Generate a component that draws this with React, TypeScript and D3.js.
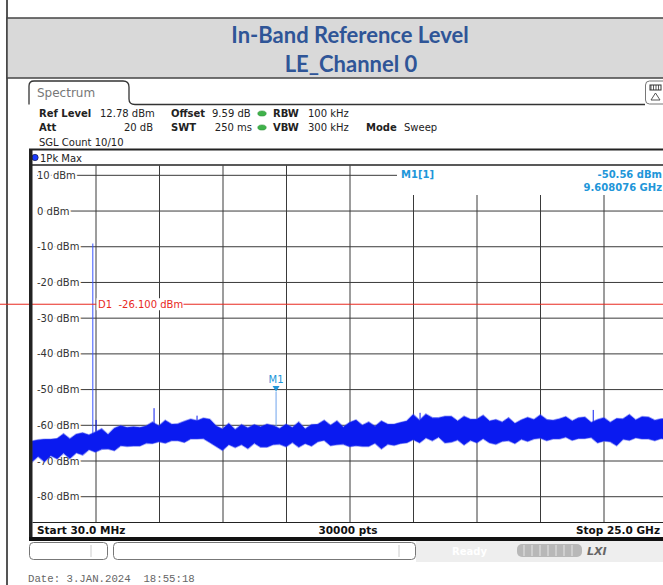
import * as d3 from 'd3';

// sweep settings
const START_GHZ = 0.03;
const STOP_GHZ = 25.0;
const REF_LEVEL = 12.78;
const BOTTOM_LEVEL = -87.22;
const Y_TICKS = [10, 0, -10, -20, -30, -40, -50, -60, -70, -80];
const D1_LEVEL = -26.1;
const M1_FREQ = 9.608076;
const M1_LEVEL = -50.56;

// peak trace envelope (dBm) sampled every 0.25 GHz
const FREQ_GHZ = [
  0.03, 0.25, 0.5, 0.75, 1.0, 1.25, 1.5, 1.75, 2.0, 2.25,
  2.5, 2.75, 3.0, 3.25, 3.5, 3.75, 4.0, 4.25, 4.5, 4.75,
  5.0, 5.25, 5.5, 5.75, 6.0, 6.25, 6.5, 6.75, 7.0, 7.25,
  7.5, 7.75, 8.0, 8.25, 8.5, 8.75, 9.0, 9.25, 9.5, 9.75,
  10.0, 10.25, 10.5, 10.75, 11.0, 11.25, 11.5, 11.75, 12.0, 12.25,
  12.5, 12.75, 13.0, 13.25, 13.5, 13.75, 14.0, 14.25, 14.5, 14.75,
  15.0, 15.25, 15.5, 15.75, 16.0, 16.25, 16.5, 16.75, 17.0, 17.25,
  17.5, 17.75, 18.0, 18.25, 18.5, 18.75, 19.0, 19.25, 19.5, 19.75,
  20.0, 20.25, 20.5, 20.75, 21.0, 21.25, 21.5, 21.75, 22.0, 22.25,
  22.5, 22.75, 23.0, 23.25, 23.5, 23.75, 24.0, 24.25, 24.5, 24.75,
  25.0,
];
const TRACE_MAX = [
  -64.5, -64.2, -64.0, -64.0, -63.8, -62.5, -63.9, -62.6, -62.2, -62.8,
  -62.0, -61.1, -62.7, -60.9, -60.2, -60.7, -60.5, -60.7, -60.3, -59.2,
  -60.3, -58.7, -59.8, -59.7, -59.0, -58.4, -58.8, -58.1, -58.4, -60.3,
  -61.1, -59.6, -61.3, -59.9, -60.8, -59.9, -60.5, -59.8, -60.2, -61.0,
  -59.8, -60.7, -59.2, -61.1, -59.9, -59.8, -58.7, -60.1, -58.9, -60.6,
  -59.3, -58.6, -60.1, -59.2, -60.4, -58.9, -59.8, -59.8, -59.3, -58.9,
  -57.1, -58.7, -57.0, -58.0, -58.0, -57.6, -57.6, -58.9, -57.6, -58.4,
  -58.4, -57.3, -58.9, -58.5, -59.2, -58.0, -59.6, -58.6, -57.9, -58.5,
  -57.2, -58.5, -58.7, -58.3, -57.7, -58.9, -58.0, -57.8, -59.3, -58.5,
  -58.0, -59.3, -58.2, -58.3, -57.1, -58.6, -57.7, -57.8, -58.7, -58.3,
  -58.2,
];
const TRACE_MIN = [
  -70.0, -68.6, -70.1, -68.4, -69.3, -67.7, -69.2, -67.6, -68.2, -66.7,
  -67.4, -66.6, -66.5, -67.0, -65.6, -65.8, -65.7, -65.7, -64.9, -65.0,
  -64.5, -64.9, -64.2, -64.2, -64.7, -63.7, -63.7, -63.6, -64.7, -65.8,
  -66.9, -65.3, -66.1, -65.3, -66.4, -64.9, -66.0, -66.0, -65.3, -65.2,
  -65.9, -64.7, -66.0, -65.0, -65.7, -64.5, -64.1, -65.6, -65.3, -65.2,
  -65.9, -65.6, -65.8, -65.8, -64.9, -66.5, -65.2, -65.5, -65.0, -64.8,
  -63.9, -64.8, -63.4, -64.2, -63.2, -64.8, -64.6, -64.0, -65.4, -64.1,
  -64.8, -63.6, -64.8, -65.2, -64.4, -64.2, -65.0, -63.8, -64.4, -63.7,
  -63.5, -64.2, -63.7, -63.7, -63.2, -64.1, -63.6, -63.6, -63.3, -64.8,
  -64.3, -64.5, -65.6, -63.8, -64.1, -63.4, -63.7, -63.7, -64.2, -63.6,
  -64.0,
];
// narrow peaks that stick out of the noise
const SPIKE_FREQ = [2.402, 2.53, 4.81, 6.5, 9.608076, 15.27, 22.08];
const SPIKE_LEVEL = [-9.1, -58.5, -55.2, -57.3, -50.56, -56.5, -55.7];

const W = 663;
const H = 585;
const PLOT = { left: 32.5, right: 667.5, top: 165.4, bottom: 522.5 };

const SANS = '"DejaVu Sans", Verdana, sans-serif';
const TRACE_BLUE = '#0a1af0';
const MARKER_BLUE = '#2196d9';

const App = () => {
  const x = d3.scaleLinear().domain([START_GHZ, STOP_GHZ]).range([PLOT.left, PLOT.right]);
  const y = d3.scaleLinear().domain([REF_LEVEL, BOTTOM_LEVEL]).range([PLOT.top, PLOT.bottom]);

  const idx = d3.range(FREQ_GHZ.length);
  const area = d3
    .area<number>()
    .x((i) => x(FREQ_GHZ[i]))
    .y0((i) => y(TRACE_MIN[i]))
    .y1((i) => y(TRACE_MAX[i]));
  const tracePath = area(idx) ?? '';

  const nearest = (f: number) => d3.minIndex(FREQ_GHZ, (v) => Math.abs(v - f));

  // 10 divisions across the span
  const vDivs = d3.range(1, 10).map((k) => START_GHZ + (k * (STOP_GHZ - START_GHZ)) / 10);
  const markerBoxLeft = 397;
  const markerBoxBottom = 195;

  const hdr = (t: string, px: number, py: number, bold = false, anchor = 'start') => (
    <text x={px} y={py} fontFamily={SANS} fontSize={10} fontWeight={bold ? 'bold' : 'normal'} fill="#222" textAnchor={anchor}>
      {t}
    </text>
  );
  const dot = (px: number, py: number) => (
    <ellipse cx={px} cy={py} rx={4.2} ry={2.6} fill="#3fb24a" stroke="#2a8a34" strokeWidth={0.5} />
  );

  const d1y = y(D1_LEVEL);

  return (
    <div style={{ position: 'absolute', left: 0, top: 0 }}>
      <svg width={W} height={H} style={{ display: 'block', background: '#fff' }}>
        {/* outer page frame */}
        <line x1={7} x2={7} y1={0} y2={H} stroke="#555" strokeWidth={2} />
        <rect x={7} y={18} width={W} height={60} fill="#d9d9d9" stroke="#444" strokeWidth={1.5} />
        <text x={350} y={43} textAnchor="middle" fontFamily="Lato, 'Open Sans', sans-serif" fontWeight="bold" fontSize={22} fill="#2f5597">
          In-Band Reference Level
        </text>
        <text x={351} y={72} textAnchor="middle" fontFamily="Lato, 'Open Sans', sans-serif" fontWeight="bold" fontSize={22} fill="#2f5597">
          LE_Channel 0
        </text>

        {/* tab */}
        <path d="M29,104.5 V86 Q29,81 34,81 H123 Q129,81 129,87 V99 Q129,104.5 135,104.5 H645" fill="none" stroke="#333" strokeWidth={1.3} />
        <text x={37} y={97} fontFamily={SANS} fontSize={12} fill="#777">Spectrum</text>
        <rect x={645.5} y={81} width={22} height={23} rx={4} fill="#fff" stroke="#777" strokeWidth={1} />
        <rect x={650} y={85} width={11} height={5} fill="#fff" stroke="#333" strokeWidth={1} />
        <path d="M651,85 V90 M653.5,85 V90 M656,85 V90 M658.5,85 V90" stroke="#333" strokeWidth={0.8} />
        <path d="M655.5,93 L651,100 H660 Z" fill="none" stroke="#444" strokeWidth={0.9} />

        {/* settings header */}
        {hdr('Ref Level', 39, 117, true)}
        {hdr('12.78 dBm', 100, 117)}
        {hdr('Offset', 171, 117, true)}
        {hdr('9.59 dB', 212, 117)}
        {dot(262, 113.5)}
        {hdr('RBW', 273, 117, true)}
        {hdr('100 kHz', 308, 117)}
        {hdr('Att', 39, 131, true)}
        {hdr('20 dB', 153, 131, false, 'end')}
        {hdr('SWT', 171, 131, true)}
        {hdr('250 ms', 252, 131, false, 'end')}
        {dot(262, 127.5)}
        {hdr('VBW', 273, 131, true)}
        {hdr('300 kHz', 308, 131)}
        {hdr('Mode', 366, 131, true)}
        {hdr('Sweep', 404, 131)}
        {hdr('SGL Count 10/10', 39, 146)}

        {/* trace label row */}
        <line x1={29} x2={W} y1={149.5} y2={149.5} stroke="#222" strokeWidth={2} />
        <circle cx={35} cy={157.5} r={3.2} fill="#1a3cff" stroke="#112" strokeWidth={0.6} />
        <text x={40} y={161.5} fontFamily={SANS} fontSize={10} fill="#222">1Pk Max</text>
        <line x1={29} x2={W} y1={165} y2={165} stroke="#222" strokeWidth={1.5} />

        {/* grid */}
        {Y_TICKS.map((v) => (
          <line
            key={`h${v}`}
            x1={37}
            x2={v === 10 ? markerBoxLeft : PLOT.right}
            y1={y(v)}
            y2={y(v)}
            stroke="#3a3a3a"
            strokeWidth={1}
          />
        ))}
        {vDivs.map((f) => {
          const vx = x(f);
          return (
            <line
              key={`v${f}`}
              x1={vx}
              x2={vx}
              y1={vx > markerBoxLeft ? markerBoxBottom : PLOT.top}
              y2={PLOT.bottom}
              stroke="#3a3a3a"
              strokeWidth={1}
            />
          );
        })}
        {Y_TICKS.map((v) => (
          <text
            key={`l${v}`}
            x={37}
            y={y(v) + 3.6}
            fontFamily={SANS}
            fontSize={10}
            fill="#333"
            stroke="#fff"
            strokeWidth={4}
            paintOrder="stroke"
            style={{ whiteSpace: 'pre' }}
          >
            {`${v} dBm`}
          </text>
        ))}

        {/* marker readout */}
        <text x={401} y={178} fontFamily={SANS} fontSize={10} fill={MARKER_BLUE} fontWeight="bold">M1[1]</text>
        <text x={662} y={178} fontFamily={SANS} fontSize={10} fill={MARKER_BLUE} fontWeight="bold" textAnchor="end">
          {`${M1_LEVEL.toFixed(2)} dBm`}
        </text>
        <text x={662} y={191} fontFamily={SANS} fontSize={10} fill={MARKER_BLUE} fontWeight="bold" textAnchor="end">
          {`${M1_FREQ.toFixed(6)} GHz`}
        </text>

        {/* trace */}
        {SPIKE_FREQ.map((f, i) => {
          const j = nearest(f);
          const isM1 = Math.abs(f - M1_FREQ) < 1e-6;
          return (
            <line
              key={`s${i}`}
              x1={x(f)}
              x2={x(f)}
              y1={y(SPIKE_LEVEL[i])}
              y2={y(TRACE_MAX[j]) + 3}
              stroke={isM1 ? '#6fa4ec' : i === 0 ? '#3a55ff' : TRACE_BLUE}
              strokeWidth={1}
            />
          );
        })}
        <path d={tracePath} fill="none" stroke="#4a58f2" strokeOpacity={0.5} strokeWidth={2.4} strokeLinejoin="miter" />
        <path d={tracePath} fill={TRACE_BLUE} stroke={TRACE_BLUE} strokeWidth={0.8} strokeLinejoin="miter" />

        {/* display line D1 */}
        <line x1={0} x2={PLOT.right} y1={d1y} y2={d1y} stroke="#e8281e" strokeWidth={1} />
        <rect x={96.5} y={d1y - 6} width={87} height={12} fill="#fff" />
        <text
          x={98}
          y={d1y + 3.8}
          fontFamily={SANS}
          fontSize={10}
          fill="#e8281e"
          style={{ whiteSpace: 'pre' }}
        >
          {`D1  ${D1_LEVEL.toFixed(3)} dBm`}
        </text>

        {/* marker M1 */}
        <path
          d={`M${x(M1_FREQ) - 3.5},${y(M1_LEVEL) - 5.5} H${x(M1_FREQ) + 3.5} L${x(M1_FREQ)},${y(M1_LEVEL)} Z`}
          fill={MARKER_BLUE}
        />
        <text x={x(M1_FREQ)} y={y(M1_LEVEL) - 8.5} textAnchor="middle" fontFamily={SANS} fontSize={10} fill={MARKER_BLUE}>
          M1
        </text>

        {/* plot frame */}
        <rect x={29} y={149} width={3.5} height={391} fill="#222" />
        <line x1={PLOT.left} x2={W} y1={PLOT.bottom} y2={PLOT.bottom} stroke="#222" strokeWidth={1.2} />
        <text x={37} y={534} fontFamily={SANS} fontSize={10.5} fontWeight="bold" fill="#111">Start 30.0 MHz</text>
        <text x={348} y={534} textAnchor="middle" fontFamily={SANS} fontSize={10.5} fontWeight="bold" fill="#111">30000 pts</text>
        <text x={660} y={534} textAnchor="end" fontFamily={SANS} fontSize={10.5} fontWeight="bold" fill="#111">Stop 25.0 GHz</text>
        <rect x={29} y={537} width={W - 29} height={4} fill="#111" />

        {/* status bar */}
        <rect x={416} y={541} width={W - 416} height={21} fill="#eeeeee" />
        <rect x={29.5} y={542.5} width={78} height={17} rx={4} fill="#fff" stroke="#777" strokeWidth={1} />
        <line x1={91} x2={91} y1={545} y2={557} stroke="#ccc" />
        <rect x={113.5} y={542.5} width={302} height={17} rx={4} fill="#fff" stroke="#777" strokeWidth={1} />
        <line x1={399} x2={399} y1={545} y2={557} stroke="#ccc" />
        <text x={452} y={555} fontFamily={SANS} fontSize={10} fontWeight="bold" fill="#fff">Ready</text>
        <rect x={517} y={544} width={65} height={13} rx={5} fill="#b8b8b8" />
        {d3.range(7).map((k) => (
          <line key={`pb${k}`} x1={524 + k * 8} x2={524 + k * 8} y1={545} y2={556} stroke="#e6e6e6" strokeWidth={1} />
        ))}
        <text x={587} y={555} fontFamily={SANS} fontSize={11} fontWeight="bold" fontStyle="italic" fill="#666">LXI</text>

        {/* date stamp */}
        <text x={28} y={582} fontFamily='"Liberation Mono", "DejaVu Sans Mono", monospace' fontSize={10.7} fill="#666" style={{ whiteSpace: 'pre' }}>
          Date: 3.JAN.2024  18:55:18
        </text>
      </svg>
    </div>
  );
};

export default App;
